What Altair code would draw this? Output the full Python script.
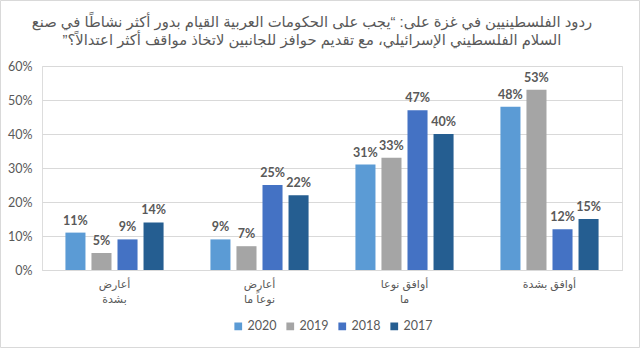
import altair as alt
import pandas as pd

categories = ["أعارض|بشدة", "أعارض|نوعاً ما", "أوافق نوعا|ما", "أوافق بشدة"]
years = ["2020", "2019", "2018", "2017"]
colors = ["#5B9BD5", "#A5A5A5", "#4472C4", "#255E91"]
values = {
    "2020": [11, 9, 31, 48],
    "2019": [5, 7, 33, 53],
    "2018": [9, 25, 47, 12],
    "2017": [14, 22, 40, 15],
}
title_lines = [
    "\u200fردود الفلسطينيين في غزة على: “يجب على الحكومات العربية القيام بدور أكثر نشاطًا في صنع\u200f",
    "\u200fالسلام الفلسطيني الإسرائيلي، مع تقديم حوافز للجانبين لاتخاذ مواقف أكثر اعتدالاً؟”\u200f",
]

rows = []
for y in years:
    for c, v in zip(categories, values[y]):
        rows.append({"category": c, "year": y, "value": v})
df = pd.DataFrame(rows)

GRAY = "#595959"
NUMFONT = "Lato"
ARFONT = "Arial, DejaVu Sans"

x = alt.X("category:N", sort=categories, title=None,
          scale=alt.Scale(paddingInner=0, paddingOuter=0),
          axis=alt.Axis(labelExpr="split(datum.label, '|')", labelAngle=0,
                        labelFont=ARFONT, labelFontSize=11, labelColor=GRAY,
                        labelPadding=8, labelLineHeight=15, ticks=False,
                        domainColor="#D9D9D9", labelAlign="center"))
xo = alt.XOffset("year:N", sort=years,
                 scale=alt.Scale(paddingInner=0.23, paddingOuter=0.9))
yenc = alt.Y("value:Q", title=None,
             scale=alt.Scale(domain=[0, 60]),
             axis=alt.Axis(values=[0, 10, 20, 30, 40, 50, 60],
                           labelExpr="datum.value + '%'", domain=False, ticks=False,
                           labelFont=NUMFONT, labelFontSize=12.5, labelColor=GRAY,
                           labelPadding=10, gridColor="#D9D9D9"))

base = alt.Chart(df)

bars = base.mark_bar().encode(
    x=x, xOffset=xo, y=yenc,
    color=alt.Color("year:N", sort=years,
                    scale=alt.Scale(domain=years, range=colors),
                    legend=alt.Legend(title=None, orient="none", direction="horizontal",
                                      legendX=190, legendY=254, symbolType="square",
                                      symbolSize=60, symbolStrokeWidth=0,
                                      labelFont=NUMFONT, labelFontSize=12.5,
                                      labelColor=GRAY, columnPadding=7, labelOffset=3)),
)

labels = base.mark_text(baseline="bottom", dy=-5, fontWeight="bold",
                        font=NUMFONT, fontSize=12.5, color=GRAY).encode(
    x=x, xOffset=xo, y=yenc, text=alt.Text("label:N"),
).transform_calculate(label="datum.value + '%'")

border = alt.Chart(pd.DataFrame({"a": [0]})).mark_rect(
    fill=None, stroke="#D9D9D9", strokeWidth=1
).encode(x=alt.value(-41.5), x2=alt.value(597.5), y=alt.value(-65.5), y2=alt.value(281.5))

chart = alt.layer(bars, labels, border).properties(
    width=580, height=204,
    autosize=alt.AutoSizeParams(type="none"),
    padding={"left": 42, "top": 66, "right": 18, "bottom": 78},
    title=alt.TitleParams(title_lines, font=ARFONT, fontSize=14.8, fontWeight="normal",
                          color=GRAY, lineHeight=18, anchor="middle",
                          baseline="top", frame="group", offset=0, dy=48, dx=-20),
).configure_view(stroke=None).configure(background="white")

chart.save("out.html", embed_options={"renderer": "svg", "actions": False})
